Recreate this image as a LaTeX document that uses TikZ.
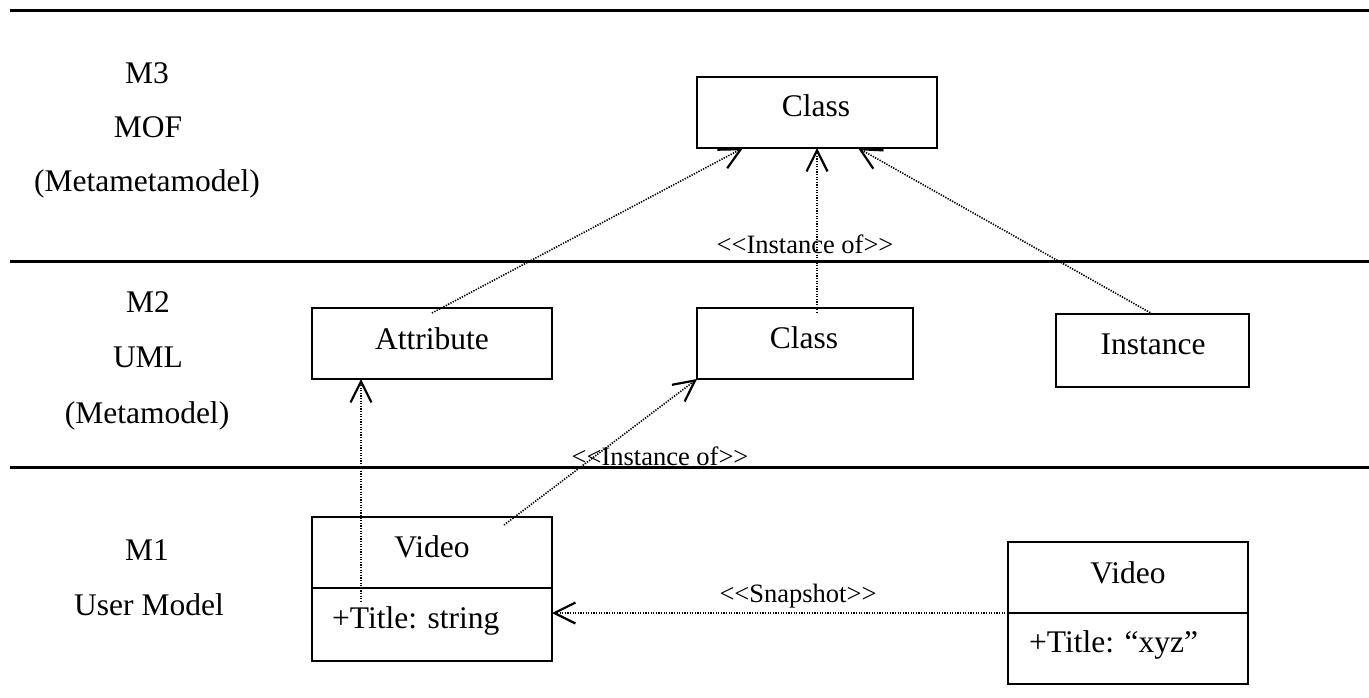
\documentclass[tikz,border=0pt]{standalone}
\usepackage{fontspec}
\setmainfont{Liberation Serif}
\usetikzlibrary{arrows.meta}
\begin{document}
\begin{tikzpicture}[x=1pt,y=-1pt,
  box/.style={draw, line width=2.2pt, inner sep=0pt, outer sep=0pt},
  txt/.style={anchor=base, inner sep=0pt, font=\fontsize{31.5}{37}\selectfont},
  txtw/.style={anchor=base west, inner sep=0pt, font=\fontsize{31.5}{37}\selectfont},
  lbl/.style={anchor=base, inner sep=0pt, font=\fontsize{26.5}{32}\selectfont},
  sepline/.style={line width=3pt},
  divline/.style={line width=2.2pt},
  dep/.style={line width=1.6pt, dash pattern=on 1.3pt off 1.3pt,
    -{Straight Barb[length=21pt,width=21pt,line width=2.2pt]}}
]
\useasboundingbox (0,0) rectangle (1369,697);

% layer separators
\coordinate (s1a) at (10,10);  \coordinate (s1b) at (1369,10);
\coordinate (s2a) at (10,261); \coordinate (s2b) at (1369,261);
\coordinate (s3a) at (10,467); \coordinate (s3b) at (1369,467);
\draw[sepline] (s1a) -- (s1b);
\draw[sepline] (s2a) -- (s2b);
\draw[sepline] (s3a) -- (s3b);

% layer labels
\node[txt] (m3)  at (147,83)  {M3};
\node[txt] (mof) at (148,137) {MOF};
\node[txt] (mmm) at (147,191) {(Metametamodel)};
\node[txt] (m2)  at (148,312) {M2};
\node[txt] (uml) at (148,367) {UML};
\node[txt] (mm)  at (147,423) {(Metamodel)};
\node[txt] (m1)  at (147,560) {M1};
\node[txt] (um)  at (149,615) {User Model};

% boxes
\node[box, minimum width=240pt, minimum height=71pt] (topclass) at (817,112.5) {};
\node[txt] (topclasst) at (816,116) {Class};
\node[box, minimum width=240pt, minimum height=71pt] (attr) at (432,343.5) {};
\node[txt] (attrt) at (432,349) {Attribute};
\node[box, minimum width=216pt, minimum height=71pt] (cls) at (805,343.5) {};
\node[txt] (clst) at (804,348) {Class};
\node[box, minimum width=193pt, minimum height=73pt] (inst) at (1152.5,350.5) {};
\node[txt] (instt) at (1153,354) {Instance};

\node[box, minimum width=240pt, minimum height=144pt] (video) at (432,589) {};
\draw[divline] (video.west |- 0,588) -- (video.east |- 0,588);
\node[txt] (videot) at (432,557) {Video};
\node[txtw] (videoa) at (332,628) {+Title: string};

\node[box, minimum width=240pt, minimum height=142pt] (rvideo) at (1128,613) {};
\draw[divline] (rvideo.west) -- (rvideo.east);
\node[txt] (rvideot) at (1128,583) {Video};
\node[txtw] (rvideoa) at (1029,652) {+Title: “xyz”};

% labels
\node[lbl] (inst1) at (805,253) {<\kern0pt<Instance of>\kern0pt>};
\node[lbl] (inst2) at (660,465) {<\kern0pt<Instance of>\kern0pt>};
\node[lbl] (snap)  at (798,602) {<\kern0pt<Snapshot>\kern0pt>};

% connectors
\draw[dep] ([yshift=-5pt]attr.north) -- ([xshift=-74pt]topclass.south);
\draw[dep] ([xshift=12pt,yshift=-5pt]cls.north) -- (topclass.south);
\draw[dep] (inst.north) -- ([xshift=41pt]topclass.south);
\draw[dep] ([xshift=72pt,yshift=-8pt]video.north) -- (cls.south west);
\draw[dep] ([xshift=-71pt,yshift=-13pt]video.center) -- ([xshift=-71pt]attr.south);
\draw[dep] (rvideo.west) -- (video.east |- rvideo.west);
\end{tikzpicture}
\end{document}
